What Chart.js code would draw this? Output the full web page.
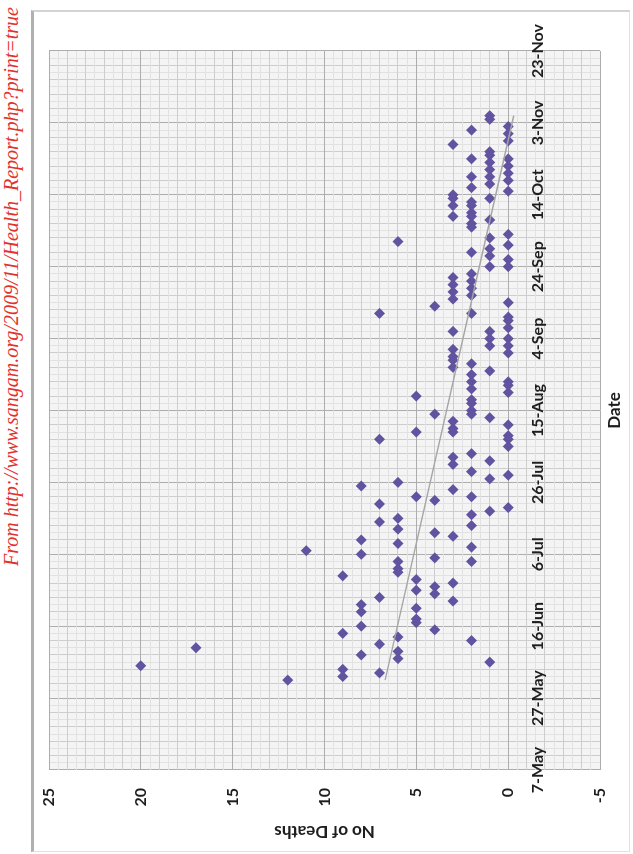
<!DOCTYPE html>
<html>
<head>
<meta charset="utf-8">
<title>No of Deaths by Date</title>
<script src="https://cdn.jsdelivr.net/npm/chart.js@4.4.0/dist/chart.umd.min.js"></script>
<style>
html, body { margin: 0; padding: 0; background: #fff; overflow: hidden; }
/* the chart is drawn upright, then the whole sheet is turned a quarter turn left */
#turned { position: absolute; left: 0; top: 0; width: 854px; height: 633px;
          transform-origin: 0 0; transform: translateY(854px) rotate(-90deg); }
#source { position: absolute; top: 0px; right: 7px; white-space: nowrap;
          font: italic 20px "Liberation Serif", serif; color: #e3312d; }
#frame { position: absolute; left: 2px; top: 31px; width: 839px; height: 595px;
         border-top: 3px solid #b0b0b0; border-right: 2px solid #d3d3d3;
         border-bottom: 1px solid #e2e2e2; border-left: 1px solid #e2e2e2; }
#chart { position: absolute; left: 0; top: 0; }
</style>
</head>
<body>
<div id="turned">
    <div id="source">From http://www.sangam.org/2009/11/Health_Report.php?print=true</div>
    <div id="frame"></div>
    <canvas id="chart" width="854" height="633"></canvas>
</div>
<script>
// values: for each death count, the days (month-day, 2009) it was reported
var deathLevels = [0, 1, 2, 3, 4, 5, 6, 7, 8, 9, 11, 12, 17, 20];
var datesAtLevel = [
    ["11-02", "10-31", "10-29", "10-24", "10-22", "10-20", "10-18", "10-15", "10-03", "09-30",
     "09-26", "09-24", "09-14", "09-10", "09-09", "09-07", "09-04", "09-02", "08-31", "08-23",
     "08-22", "08-20", "08-11", "08-08", "08-07", "08-05", "07-28", "07-19"],
    ["11-05", "11-04", "10-26", "10-25", "10-23", "10-21", "10-19", "10-17", "10-13", "10-07",
     "10-02", "09-29", "09-27", "09-24", "09-06", "09-04", "09-02", "08-26", "08-13", "08-01",
     "07-27", "07-18", "06-06"],
    ["11-01", "10-24", "10-19", "10-16", "10-12", "10-11", "10-09", "10-08", "10-06", "10-05",
     "09-28", "09-22", "09-20", "09-18", "09-16", "09-11", "08-28", "08-25", "08-23", "08-21",
     "08-18", "08-17", "08-15", "08-14", "08-03", "07-29", "07-22", "07-17", "07-14", "07-08",
     "07-04", "06-12"],
    ["10-28", "10-14", "10-13", "10-11", "10-08", "09-21", "09-19", "09-17", "09-15", "09-06",
     "09-01", "08-30", "08-29", "08-27", "08-12", "08-10", "08-09", "08-02", "07-31", "07-24",
     "07-11", "06-28", "06-23"],
    ["09-13", "08-14", "07-21", "07-12", "07-05", "06-27", "06-25", "06-15"],
    ["08-19", "08-09", "07-22", "06-29", "06-26", "06-21", "06-18", "06-17"],
    ["10-01", "07-26", "07-16", "07-13", "07-09", "07-04", "07-02", "07-01", "06-13", "06-09", "06-07"],
    ["09-11", "08-07", "07-20", "07-15", "06-24", "06-11", "06-03"],
    ["07-25", "07-10", "07-06", "06-22", "06-20", "06-16", "06-08"],
    ["06-30", "06-14", "06-04", "06-02"],
    ["07-07"],
    ["06-01"],
    ["06-10"],
    ["06-05"]
];
// linear trend line, its two ends
var trendDates = ["06-01", "11-05"];
var trendValues = [6.7, -0.3];
// date axis labels, one every 20 days from 7 May
var dateLabels = ["7-May", "27-May", "16-Jun", "6-Jul", "26-Jul", "15-Aug",
                  "4-Sep", "24-Sep", "14-Oct", "3-Nov", "23-Nov"];

var firstDay = Date.UTC(2009, 4, 7);

// days since 7 May for a "MM-DD" string
function dayOf(md)
{
    var p = md.split("-");
    return (Date.UTC(2009, +p[0] - 1, +p[1]) - firstDay) / 86400000;
}

var points = [];
for (var i = 0; i < deathLevels.length; ++i)
{
    for (var j = 0; j < datesAtLevel[i].length; ++j)
        points.push({ x: dayOf(datesAtLevel[i][j]), y: deathLevels[i] });
}

var trend = [];
for (var k = 0; k < trendDates.length; ++k)
    trend.push({ x: dayOf(trendDates[k]), y: trendValues[k] });

// graph paper: heavy, medium and faint lines
function dayGrid(ctx)
{
    var v = ctx.tick.value;
    if (v % 20 === 0) return "#adadad";
    if (v % 4 === 0) return "#cdcdcd";
    return "#e2e2e2";
}

function deathGrid(ctx)
{
    var v = ctx.tick.value;
    if (v % 5 === 0) return "#adadad";
    if (Number.isInteger(v)) return "#cdcdcd";
    return "#e2e2e2";
}

var labelFont = { family: "Lato", size: 16, weight: "bold" };
var titleFont = { family: "Lato", size: 17, weight: "bold" };

var plotBackground = {
    id: "plotBackground",
    beforeDraw: function (chart)
    {
        var a = chart.chartArea;
        chart.ctx.save();
        chart.ctx.fillStyle = "#f4f4f4";
        chart.ctx.fillRect(a.left, a.top, a.width, a.height);
        chart.ctx.restore();
    }
};

new Chart(document.getElementById("chart").getContext("2d"), {
    type: "scatter",
    data: {
        datasets: [
            {
                label: "No of Deaths",
                data: points,
                xAxisID: "x",
                yAxisID: "y",
                pointStyle: "rectRot",
                pointRadius: 5.5,
                backgroundColor: "#6153a0",
                borderColor: "#6153a0",
                borderWidth: 0,
                order: 1
            },
            {
                label: "Trend",
                data: trend,
                xAxisID: "x",
                yAxisID: "y",
                showLine: true,
                borderColor: "#a5a5a5",
                borderWidth: 1.5,
                pointRadius: 0,
                order: 0
            }
        ]
    },
    options: {
        responsive: false,
        animation: false,
        devicePixelRatio: 1,
        layout: { padding: { top: 49, right: 51, bottom: 0, left: 4 } },
        plugins: {
            legend: { display: false },
            tooltip: { enabled: false }
        },
        scales: {
            x: {
                type: "linear",
                position: "bottom",
                min: 0,
                max: 200,
                afterFit: function (scale) { scale.height = 33; },
                ticks: { display: false, stepSize: 2, autoSkip: false },
                grid: { color: dayGrid, lineWidth: 1, drawTicks: false },
                border: { display: false },
                title: { display: true, text: "Date", color: "#1e1e1e", font: titleFont,
                         padding: { top: 0, bottom: 8 } }
            },
            xd: {
                type: "linear",
                axis: "x",
                position: { y: 0 },
                min: 0,
                max: 200,
                ticks: {
                    stepSize: 20,
                    autoSkip: false,
                    maxRotation: 0,
                    padding: 20,
                    color: "#1e1e1e",
                    font: labelFont,
                    callback: function (value) { return dateLabels[value / 20]; }
                },
                grid: { display: false, drawTicks: false },
                border: { display: false }
            },
            y: {
                type: "linear",
                position: "left",
                min: -5,
                max: 25,
                afterFit: function (scale) { scale.width = 80; },
                ticks: {
                    stepSize: 0.5,
                    autoSkip: false,
                    padding: 18,
                    color: "#1e1e1e",
                    font: labelFont,
                    callback: function (value) { return value % 5 === 0 ? value : ""; }
                },
                grid: { color: deathGrid, lineWidth: 1, drawTicks: false },
                border: { display: false },
                title: { display: true, text: "No of Deaths", color: "#1e1e1e", font: titleFont,
                         padding: { top: 8, bottom: 0 } }
            }
        }
    },
    plugins: [plotBackground]
});
</script>
</body>
</html>
